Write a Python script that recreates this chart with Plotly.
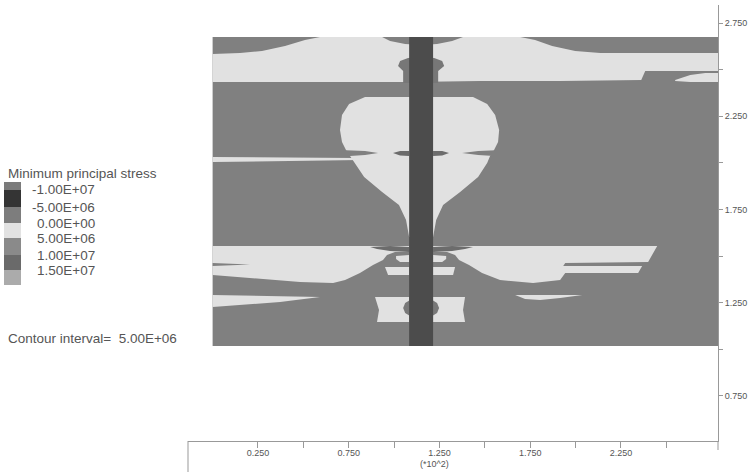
import plotly.graph_objects as go

# ---------------- data (model units, *10^2) ----------------
field_x = [0.0, 2.785, 2.785, 0.0]
field_y = [1.017, 1.017, 2.675, 2.675]

top_band_x = [0.0, 0.151, 0.272, 0.399, 0.509, 0.592, 1.695, 1.777, 1.871, 1.998, 2.136, 2.785, 2.785, 2.384, 2.362, 1.915, 1.474, 1.083, 0.647, 0.0]
top_band_y = [2.584, 2.589, 2.600, 2.627, 2.659, 2.675, 2.675, 2.659, 2.627, 2.600, 2.589, 2.589, 2.492, 2.492, 2.444, 2.439, 2.439, 2.433, 2.433, 2.433]

sliver_top_x = [2.549, 2.632, 2.715, 2.785, 2.785, 2.632, 2.549]
sliver_top_y = [2.444, 2.471, 2.482, 2.482, 2.433, 2.433, 2.439]

dome_x = [0.934, 0.978, 1.061, 1.149, 1.237, 1.320, 1.380]
dome_y = [2.675, 2.653, 2.637, 2.632, 2.637, 2.653, 2.675]

mushroom_x = [1.022, 1.033, 1.077, 1.149, 1.221, 1.265, 1.276, 1.243, 1.243, 1.050, 1.050]
mushroom_y = [2.519, 2.546, 2.562, 2.568, 2.562, 2.546, 2.519, 2.492, 2.428, 2.428, 2.492]

bulb_x = [0.840, 1.435, 1.513, 1.557, 1.579, 1.573, 1.551, 1.529, 1.513, 1.463, 1.364, 1.270, 1.232, 1.215,
          1.083, 1.066, 1.027, 0.934, 0.835, 0.785, 0.757, 0.735, 0.713, 0.702, 0.713, 0.752]
bulb_y = [2.353, 2.353, 2.315, 2.256, 2.176, 2.112, 2.069, 2.036, 1.999, 1.924, 1.843, 1.774, 1.693, 1.602,
          1.602, 1.693, 1.774, 1.843, 1.924, 1.999, 2.036, 2.069, 2.112, 2.176, 2.256, 2.315]

strip_x = [0.0, 0.482, 0.785, 0.812, 0.482, 0.0]
strip_y = [2.031, 2.028, 2.026, 2.015, 2.010, 2.004]

wedge_l_x = [0.702, 0.840, 0.912, 0.840, 0.757, 0.702]
wedge_r_x = [1.595, 1.463, 1.375, 1.463, 1.551, 1.595]
wedge_y = [2.069, 2.063, 2.053, 2.042, 2.036, 2.036]

lens_mid_l_x = [0.994, 1.033, 1.083, 1.083, 1.033]
lens_mid_r_x = [1.303, 1.265, 1.215, 1.215, 1.265]
lens_mid_y = [2.053, 2.063, 2.063, 2.036, 2.039]

low_l_x = [0.0, 1.083, 1.083, 1.005, 0.961, 0.939, 0.884, 0.812, 0.730, 0.664, 0.482, 0.206, 0.0]
low_l_y = [1.554, 1.554, 1.521, 1.521, 1.505, 1.479, 1.452, 1.409, 1.371, 1.355, 1.361, 1.382, 1.398]

low_r_x = [1.215, 2.450, 2.400, 1.943, 1.932, 2.367, 2.345, 1.943, 1.915, 1.766, 1.584, 1.485, 1.413, 1.358, 1.336, 1.292, 1.215]
low_r_y = [1.554, 1.554, 1.468, 1.462, 1.446, 1.446, 1.409, 1.409, 1.371, 1.355, 1.371, 1.409, 1.452, 1.479, 1.505, 1.521, 1.521]

gap_l_x = [0.0, 0.206, 0.0]
gap_l_y = [1.462, 1.454, 1.446]

lens_low_l_x = [0.868, 0.978, 1.083, 1.083, 0.978, 0.906]
lens_low_r_x = [1.435, 1.320, 1.215, 1.215, 1.320, 1.391]
lens_low_y = [1.548, 1.554, 1.548, 1.521, 1.527, 1.538]

blob_l_x = [1.011, 1.083, 1.083, 1.033, 1.011]
blob_r_x = [1.287, 1.215, 1.215, 1.265, 1.287]
blob_y = [1.500, 1.505, 1.468, 1.468, 1.484]

slab_l_x = [0.950, 1.083, 1.083, 0.967]
slab_r_x = [1.336, 1.215, 1.215, 1.325]
slab_y = [1.441, 1.441, 1.398, 1.398]

sliver_low_l_x = [0.0, 0.261, 0.592, 0.372, 0.152, 0.0]
sliver_low_l_y = [1.291, 1.285, 1.280, 1.253, 1.237, 1.226]

lens_low_r2_x = [1.667, 1.860, 2.037, 1.915, 1.805, 1.722]
lens_low_r2_y = [1.291, 1.293, 1.291, 1.275, 1.264, 1.269]

h_l_x = [0.895, 1.083, 1.083, 0.906, 0.917]
h_r_x = [1.391, 1.215, 1.215, 1.391, 1.380]
h_y = [1.280, 1.280, 1.146, 1.146, 1.210]

ellipse_x = [1.050, 1.061, 1.088, 1.149, 1.210, 1.237, 1.248, 1.237, 1.210, 1.149, 1.088, 1.061]
ellipse_y = [1.221, 1.248, 1.264, 1.269, 1.264, 1.248, 1.221, 1.194, 1.178, 1.173, 1.178, 1.194]

pile_x = [1.083, 1.215, 1.215, 1.083]
pile_y = [1.017, 1.017, 2.675, 2.675]

x_tick_vals = [0.25, 0.5, 0.75, 1.0, 1.25, 1.5, 1.75, 2.0, 2.25, 2.5]
x_tick_text = ["0.250", "", "0.750", "", "1.250", "", "1.750", "", "2.250", ""]
y_tick_vals = [0.75, 1.0, 1.25, 1.5, 1.75, 2.0, 2.25, 2.5, 2.75]
y_tick_text = ["0.750", "", "1.250", "", "1.750", "", "2.250", "", "2.750"]

legend_title = "Minimum principal stress"
legend_labels = ["-1.00E+07", "-5.00E+06", "0.00E+00", "5.00E+06", "1.00E+07", "1.50E+07"]
legend_colors = ["#7b7b7b", "#343434", "#7d7d7d", "#e2e2e2", "#8a8a8a", "#6a6a6a", "#ababab"]
contour_note = "Contour interval=  5.00E+06"

# ---------------- styles ----------------
GRAY = "#808080"
LIGHT = "#e1e1e1"
DARKLENS = "#6c6c6c"
PILE = "#4c4c4c"
TXT = "#555555"
FONT = "Liberation Sans, Arial, sans-serif"

fig = go.Figure()

def poly(xs, ys, color):
    fig.add_trace(go.Scatter(x=xs, y=ys, fill="toself", fillcolor=color, mode="lines",
                             line=dict(width=0, color=color), hoverinfo="skip", showlegend=False))

poly(field_x, field_y, GRAY)
poly(top_band_x, top_band_y, LIGHT)
poly(sliver_top_x, sliver_top_y, LIGHT)
poly(dome_x, dome_y, GRAY)
poly(mushroom_x, mushroom_y, "#777777")
poly(bulb_x, bulb_y, LIGHT)
poly(strip_x, strip_y, LIGHT)
poly(wedge_l_x, wedge_y, GRAY)
poly(wedge_r_x, wedge_y, GRAY)
poly(lens_mid_l_x, lens_mid_y, DARKLENS)
poly(lens_mid_r_x, lens_mid_y, DARKLENS)
poly(low_l_x, low_l_y, LIGHT)
poly(low_r_x, low_r_y, LIGHT)
poly(gap_l_x, gap_l_y, GRAY)
poly(lens_low_l_x, lens_low_y, DARKLENS)
poly(lens_low_r_x, lens_low_y, DARKLENS)
poly(blob_l_x, blob_y, LIGHT)
poly(blob_r_x, blob_y, LIGHT)
poly(slab_l_x, slab_y, LIGHT)
poly(slab_r_x, slab_y, LIGHT)
poly(sliver_low_l_x, sliver_low_l_y, LIGHT)
poly(lens_low_r2_x, lens_low_r2_y, LIGHT)
poly(h_l_x, h_y, LIGHT)
poly(h_r_x, h_y, LIGHT)
poly(ellipse_x, ellipse_y, "#787878")
poly(pile_x, pile_y, PILE)

# ---------------- layout ----------------
W, H = 756, 472
L, R, T, B = 188, 38, 5, 31
PW, PH = W - L - R, H - T - B

def px(xp):
    return (xp - L) / PW

def py(yp):
    return (H - B - yp) / PH

shapes = []
annotations = []

# legend swatches
bounds = [182, 190, 207, 223, 238, 255, 270, 285]
for i, c in enumerate(legend_colors):
    shapes.append(dict(type="rect", xref="paper", yref="paper",
                       x0=px(4), x1=px(21), y0=py(bounds[i + 1]), y1=py(bounds[i]),
                       fillcolor=c, line=dict(width=0), layer="above"))
for i, lab in enumerate(legend_labels):
    annotations.append(dict(xref="paper", yref="paper", x=px(97), y=py(bounds[i + 1]),
                            text=lab, showarrow=False, xanchor="right", yanchor="middle",
                            font=dict(family=FONT, size=13.5, color=TXT)))
annotations.append(dict(xref="paper", yref="paper", x=px(6), y=py(174), text=legend_title,
                        showarrow=False, xanchor="left", yanchor="middle",
                        font=dict(family=FONT, size=13.5, color=TXT)))
annotations.append(dict(xref="paper", yref="paper", x=px(6), y=py(338), text=contour_note,
                        showarrow=False, xanchor="left", yanchor="middle",
                        font=dict(family=FONT, size=13.5, color=TXT)))
annotations.append(dict(xref="x", yref="paper", x=1.22, y=py(464), text="(*10^2)",
                        showarrow=False, xanchor="center", yanchor="middle",
                        font=dict(family=FONT, size=9, color=TXT)))
# small extension lines of the frame
shapes.append(dict(type="line", xref="paper", yref="paper", x0=0, x1=0, y0=0, y1=py(472),
                   line=dict(color="#999999", width=1)))
shapes.append(dict(type="line", xref="paper", yref="paper", x0=1, x1=1, y0=0, y1=py(450),
                   line=dict(color="#999999", width=1)))

fig.update_layout(
    width=W, height=H,
    margin=dict(l=L, r=R, t=T, b=B, pad=0),
    paper_bgcolor="white", plot_bgcolor="white",
    showlegend=False,
    shapes=shapes, annotations=annotations,
    xaxis=dict(range=[-0.1356, 2.785], showgrid=False, zeroline=False,
               showline=True, linecolor="#999999", linewidth=1,
               ticks="outside", ticklen=6, tickcolor="#999999", tickwidth=1,
               ticklabelstandoff=-3,
               tickvals=x_tick_vals, ticktext=x_tick_text,
               tickfont=dict(family=FONT, size=9, color=TXT), fixedrange=True),
    yaxis=dict(range=[0.5075, 2.8466], side="right", showgrid=False, zeroline=False,
               showline=True, linecolor="#999999", linewidth=1,
               ticks="outside", ticklen=4, tickcolor="#999999", tickwidth=1,
               tickvals=y_tick_vals, ticktext=y_tick_text,
               tickfont=dict(family=FONT, size=9, color=TXT), fixedrange=True),
)

fig.write_html("out.html", config={"displayModeBar": False})

# remove the default page margin so the figure sits at the window's top-left corner
with open("out.html", "r", encoding="utf-8") as f:
    html = f.read()
html = html.replace("<head>", "<head><style>html,body{margin:0;padding:0;overflow:hidden;}</style>", 1)
with open("out.html", "w", encoding="utf-8") as f:
    f.write(html)
